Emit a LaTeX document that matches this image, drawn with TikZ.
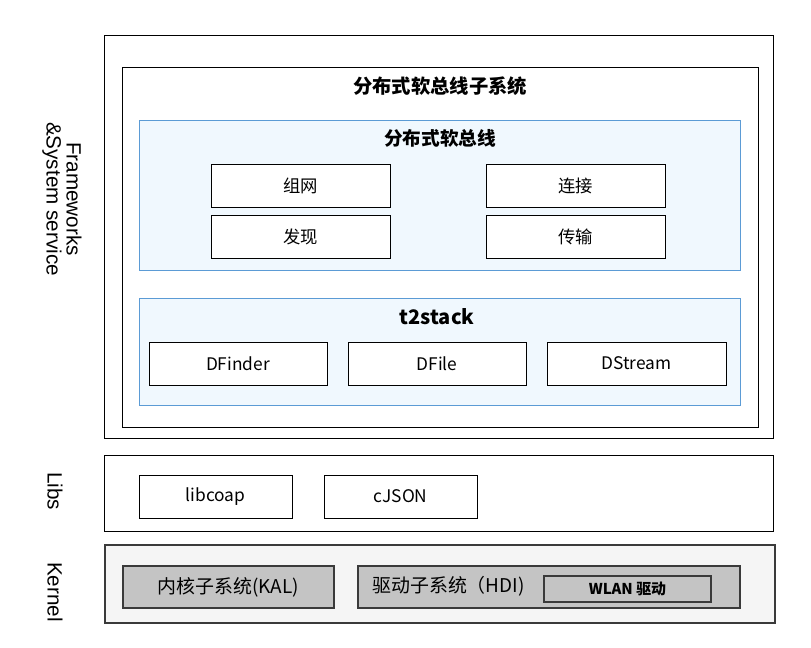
\documentclass[tikz,border=0pt]{standalone}
\usepackage{fontspec}
\setmainfont{Noto Sans CJK SC}
\newfontfamily\arialf{Liberation Sans}
\usetikzlibrary{fit}
\definecolor{bluebd}{HTML}{5B9BD5}
\definecolor{bluebg}{HTML}{F0F8FE}
\definecolor{kgray}{HTML}{C4C4C4}
\definecolor{kbd}{HTML}{3A3A3A}
\definecolor{kbg}{HTML}{F5F5F5}
\tikzset{
  layer/.style={draw=black, line width=0.75pt, inner sep=0pt},
  group/.style={draw=bluebd, fill=bluebg, line width=0.75pt, inner sep=0pt},
  mod/.style={draw=black, fill=white, line width=0.75pt, inner sep=0pt},
  modtext/.style={font=\fontsize{13}{15}\selectfont},
  kmod/.style={draw=kbd, fill=kgray, line width=1.5pt, inner sep=0pt},
  ktext/.style={font=\fontsize{14.2}{16}\selectfont},
  title/.style={font=\fontsize{14.5}{16}\selectfont\bfseries},
  side/.style={rotate=-90, font=\arialf\fontsize{15.5}{16}\selectfont, align=center}
}
\begin{document}
\begin{tikzpicture}[x=0.75pt,y=-0.75pt]
\useasboundingbox[fill=white] (0,0) rectangle (811,647);
% Frameworks layer
\node[layer, fit={(104,35) (773,438)}] (fw) {};
\node[layer, fit={(122,67) (758,427)}] (sub) {};
\node[title] (subt) at (440,86) {分布式软总线子系统};
\node[group, fit={(139,120) (740,270)}] (bus) {};
\node[title, font=\fontsize{14}{16}\selectfont\bfseries] (bust) at (440,138) {分布式软总线};
\node[mod, fit={(211,164) (390,207)}] (zw) {};
\node[mod, fit={(486,164) (665,207)}] (lj) {};
\node[mod, fit={(211,215) (390,258)}] (fx) {};
\node[mod, fit={(486,215) (665,258)}] (cs) {};
\node[modtext] at (zw.center) {组网};
\node[modtext] at (lj.center) {连接};
\node[modtext] at (fx.center) {发现};
\node[modtext] at (cs.center) {传输};
\node[group, fit={(139,298) (740,405)}] (t2) {};
\node[title, font=\fontsize{15}{16}\selectfont\bfseries] (t2t) at (437,317) {t2stack};
\node[mod, fit={(149,342) (327,385)}] (dfinder) {};
\node[mod, fit={(348,342) (526,385)}] (dfile) {};
\node[mod, fit={(547,342) (726,385)}] (dstream) {};
\node[modtext] at (dfinder.center) {DFinder};
\node[modtext] at (dfile.center) {DFile};
\node[modtext] at (dstream.center) {DStream};
\node[side] (fwl) at (62,199) {Frameworks\\[-1pt]\&System service};
% Libs layer
\node[layer, fit={(104,455) (773,531)}] (libs) {};
\node[mod, fit={(139,475) (292,518)}] (libcoap) {};
\node[mod, fit={(324,475) (477,518)}] (cjson) {};
\node[modtext] at (libcoap.center) {libcoap};
\node[modtext] at (cjson.center) {cJSON};
\node[side] (libsl) at (55,491) {Libs};
% Kernel layer
\node[draw=kbd, fill=kbg, line width=1pt, inner sep=0pt, fit={(105,545) (775,623)}] (kern) {};
\node[kmod, fit={(123,566) (334,608)}] (kal) {};
\node[ktext] at (kal.center) {内核子系统(KAL)};
\node[kmod, fit={(358,566) (740,608)}] (hdi) {};
\node[ktext, anchor=west, inner sep=0pt] at (372,586) {驱动子系统（HDI)};
\node[kmod, line width=1.3pt, fit={(544,576) (711,602)}] (wlan) {};
\node[font=\fontsize{11.2}{12}\selectfont\bfseries] at (wlan.center) {WLAN 驱动};
\node[side] (kernl) at (55,592) {Kernel};
\end{tikzpicture}
\end{document}
